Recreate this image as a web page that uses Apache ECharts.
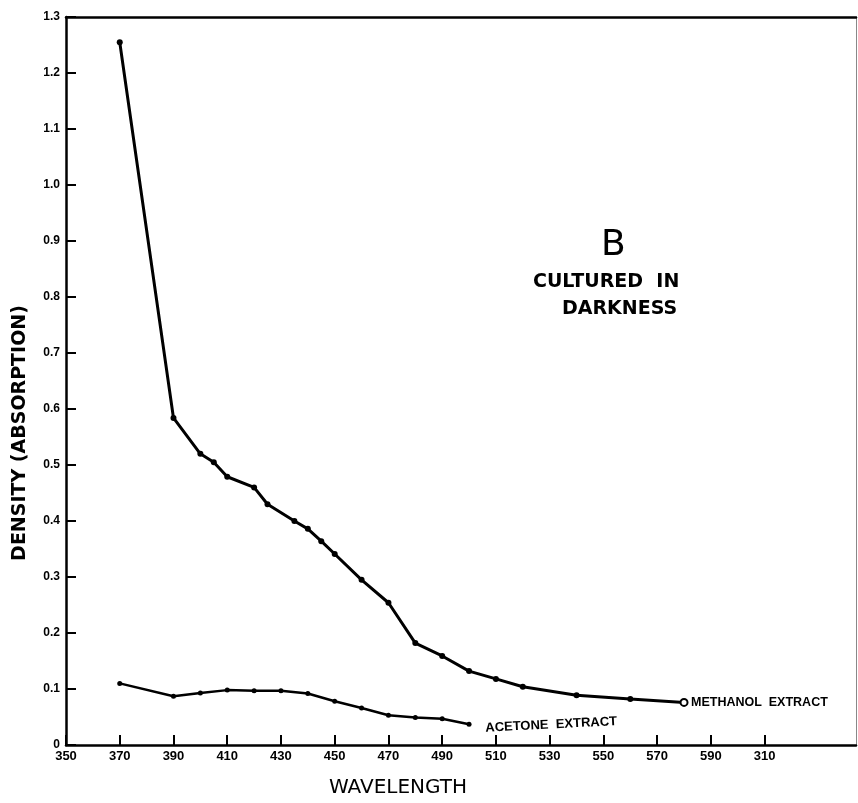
<!DOCTYPE html>
<html><head><meta charset="utf-8">
<script src="https://cdn.jsdelivr.net/npm/echarts@6/dist/echarts.min.js"></script>
<style>html,body{margin:0;padding:0;background:#fff}#c{width:858px;height:803px}</style>
</head><body><div id="c"></div>
<script>
const methX = [370,390,400,405,410,420,425,435,440,445,450,460,470,480,490,500,510,520,540,560,580];
const methY = [1.255,0.584,0.52,0.505,0.479,0.46,0.43,0.40,0.386,0.364,0.341,0.295,0.254,0.182,0.159,0.132,0.118,0.104,0.089,0.082,0.076];
const acetX = [370,390,400,410,420,430,440,450,460,470,480,490,500];
const acetY = [0.11,0.087,0.093,0.098,0.097,0.097,0.092,0.078,0.066,0.053,0.049,0.047,0.037];
const xTicks = [350,370,390,410,430,450,470,490,510,530,550,570,590,610];
const xTickLabels = ['350','370','390','410','430','450','470','490','510','530','550','570','590','310'];
const yTickLabels = ['0','0.1','0.2','0.3','0.4','0.5','0.6','0.7','0.8','0.9','1.0','1.1','1.2','1.3'];

const chart = echarts.init(document.getElementById('c'), null, {renderer:'canvas'});
const methData = methX.map((x,i)=>{
  if(i===methX.length-1) return {value:[x,methY[i]],symbolSize:7,itemStyle:{color:'#fff',borderColor:'#000',borderWidth:2}};
  return [x,methY[i]];
});
const acetData = acetX.map((x,i)=>[x,acetY[i]]);
const FONT = 'Liberation Sans';
const opt = {
  animation:false,
  backgroundColor:'#fff',
  grid:{left:66,right:2,top:17,bottom:58,containLabel:false},
  xAxis:[{
    type:'value',min:350,max:644,position:'bottom',
    axisLine:{show:true,onZero:false,lineStyle:{color:'#000',width:2.5}},
    axisTick:{show:true,inside:true,length:10,lineStyle:{color:'#000',width:2},customValues:xTicks},
    axisLabel:{show:true,customValues:xTicks,margin:5,color:'#000',fontFamily:FONT,fontWeight:'bold',fontSize:13,
      formatter:(v)=>{const i=xTicks.indexOf(v);return i>=0?xTickLabels[i]:'';}},
    splitLine:{show:false}
  },{
    type:'value',min:350,max:644,position:'top',
    axisLine:{show:true,onZero:false,lineStyle:{color:'#000',width:2.5}},
    axisTick:{show:false},axisLabel:{show:false},splitLine:{show:false}
  }],
  yAxis:[{
    type:'value',min:0,max:1.3,interval:0.1,position:'left',
    axisLine:{show:true,onZero:false,lineStyle:{color:'#000',width:2.5}},
    axisTick:{show:true,inside:true,length:10,lineStyle:{color:'#000',width:2}},
    axisLabel:{show:true,margin:6,color:'#000',fontFamily:FONT,fontWeight:'bold',fontSize:12,
      formatter:(v)=>{const i=Math.round(v*10);return yTickLabels[i]||'';}},
    splitLine:{show:false}
  },{
    type:'value',min:0,max:1.3,position:'right',
    axisLine:{show:true,onZero:false,lineStyle:{color:'#888',width:1}},
    axisTick:{show:false},axisLabel:{show:false},splitLine:{show:false}
  }],
  series:[{
    name:'Methanol extract',type:'line',data:methData,
    lineStyle:{color:'#000',width:3},itemStyle:{color:'#000'},
    symbol:'circle',symbolSize:6,
    emphasis:{disabled:true}
  },{
    name:'Acetone extract',type:'line',data:acetData,
    lineStyle:{color:'#000',width:2.5},itemStyle:{color:'#000'},
    symbol:'circle',symbolSize:5,emphasis:{disabled:true}
  }],
  graphic:[
    {type:'text',left:601,top:228,style:{text:'B',fontFamily:'DejaVu Sans',fontSize:36,fill:'#000'}},
    {type:'text',left:533,top:273,style:{text:'CULTURED  IN',fontFamily:'DejaVu Sans',fontWeight:'bold',fontSize:19,fill:'#000'}},
    {type:'text',left:562,top:300,style:{text:'DARKNESS',fontFamily:'DejaVu Sans',fontWeight:'bold',fontSize:19,fill:'#000'}},
    {type:'text',left:691,top:696,style:{text:'METHANOL  EXTRACT',fontFamily:FONT,fontWeight:'bold',fontSize:12.5,fill:'#000'}},
    {type:'text',left:485,top:715,rotation:0.05,style:{text:'ACETONE  EXTRACT',fontFamily:FONT,fontWeight:'bold',fontSize:13,fill:'#000'}},
    {type:'text',x:398,y:788,style:{text:'WAVELENGTH',fontFamily:'DejaVu Sans',fontSize:20,fill:'#000',align:'center',verticalAlign:'middle'}},
    {type:'text',x:20,y:433,rotation:Math.PI/2,style:{text:'DENSITY (ABSORPTION)',fontFamily:'DejaVu Sans',fontWeight:'bold',fontSize:19,fill:'#000',align:'center',verticalAlign:'middle'}}
  ]
};
chart.setOption(opt);
</script></body></html>
